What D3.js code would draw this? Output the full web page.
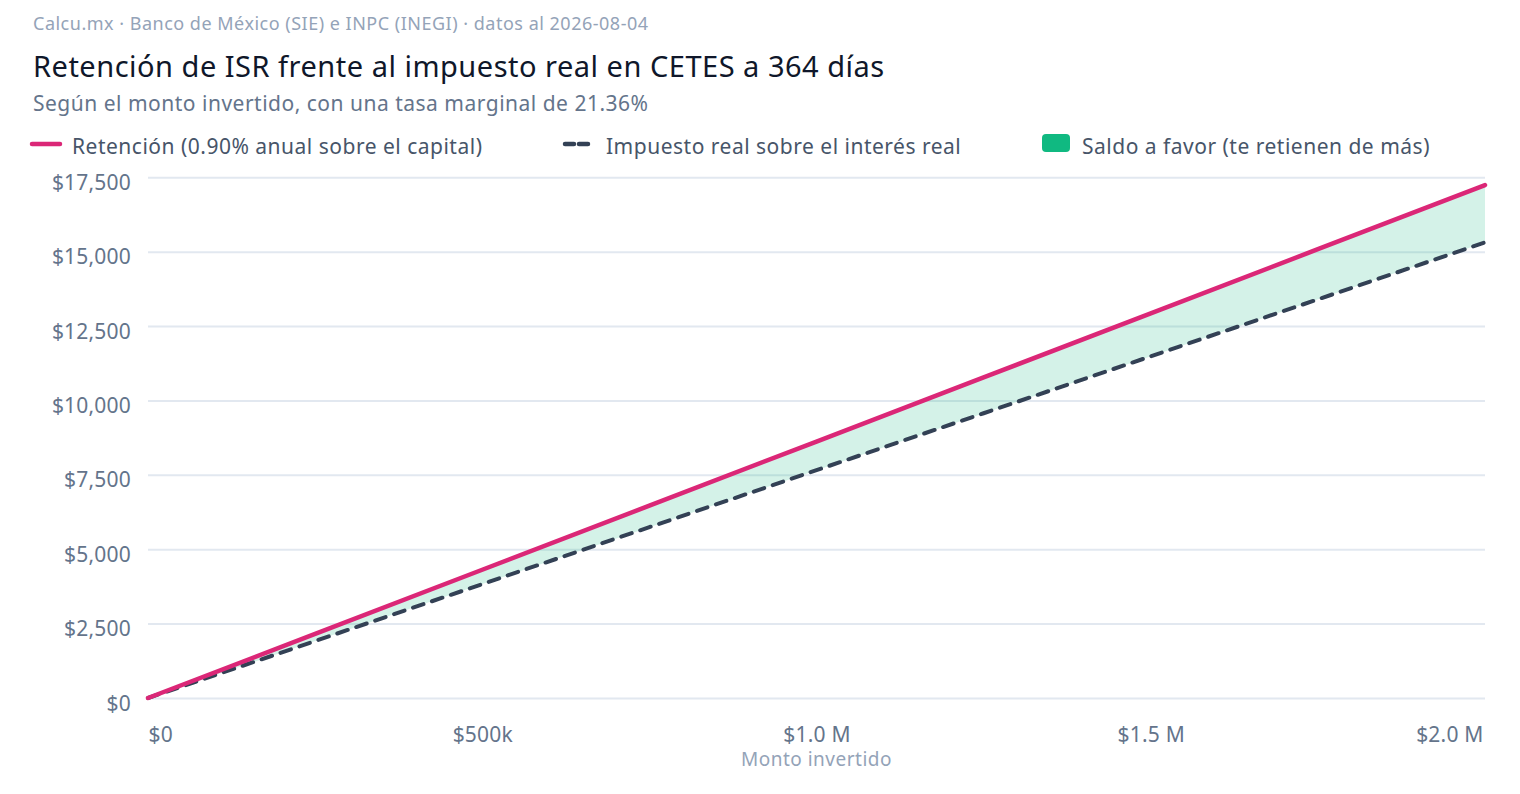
<!DOCTYPE html>
<html>
<head>
<meta charset="utf-8">
<script src="https://cdn.jsdelivr.net/npm/d3@7"></script>
<style>
  html, body { margin: 0; padding: 0; background: #ffffff; }
  svg { display: block; font-family: "Noto Sans", sans-serif; }
  text { letter-spacing: 0.5px; }
</style>
</head>
<body>
<svg id="chart" width="1520" height="794"></svg>
<script>
// ---- data ----
const montos = [0, 250000, 500000, 750000, 1000000, 1250000, 1500000, 1750000, 2000000];
const retencion = [0, 2155, 4310, 6464, 8619, 10774, 12929, 15083, 17238];
const impuestoReal = [0, 1914, 3828, 5742, 7656, 9570, 11484, 13398, 15312];
const xTicks = [0, 500000, 1000000, 1500000, 2000000];
const xTickLabels = ["$0", "$500k", "$1.0 M", "$1.5 M", "$2.0 M"];
const yTicks = [0, 2500, 5000, 7500, 10000, 12500, 15000, 17500];
const legendLabels = ["Retención (0.90% anual sobre el capital)", "Impuesto real sobre el interés real", "Saldo a favor (te retienen de más)"];

const rows = montos.map((m, i) => ({ m, r: retencion[i], t: impuestoReal[i] }));

const svg = d3.select("#chart");
const margin = { left: 148, right: 35, top: 177.3, bottom: 96 };
const W = 1520, H = 794;

const x = d3.scaleLinear().domain([0, 2000000]).range([margin.left, W - margin.right]);
const y = d3.scaleLinear().domain([0, 17500]).range([H - margin.bottom, margin.top]);

// header texts
svg.append("text").attr("x", 33).attr("y", 30).attr("font-size", 18).attr("fill", "#94a3b8")
  .text("Calcu.mx · Banco de México (SIE) e INPC (INEGI) · datos al 2026-08-04");
svg.append("text").attr("x", 33).attr("y", 77).attr("font-size", 29).attr("fill", "#0f172a")
  .text("Retención de ISR frente al impuesto real en CETES a 364 días");
svg.append("text").attr("x", 33).attr("y", 111).attr("font-size", 21).attr("fill", "#64748b")
  .text("Según el monto invertido, con una tasa marginal de 21.36%");

// legend
const lg = svg.append("g");
lg.append("line").attr("x1", 32).attr("x2", 60).attr("y1", 144).attr("y2", 144)
  .attr("stroke", "#db2777").attr("stroke-width", 4.5).attr("stroke-linecap", "round");
lg.append("text").attr("x", 72).attr("y", 153.5).attr("font-size", 21).attr("fill", "#475569").text(legendLabels[0]);
lg.append("line").attr("x1", 565).attr("x2", 588).attr("y1", 144).attr("y2", 144)
  .attr("stroke", "#334155").attr("stroke-width", 4.5).attr("stroke-linecap", "round")
  .attr("stroke-dasharray", "9,5");
lg.append("text").attr("x", 606).attr("y", 153.5).attr("font-size", 21).attr("fill", "#475569").text(legendLabels[1]);
lg.append("rect").attr("x", 1042).attr("y", 134).attr("width", 28).attr("height", 18).attr("rx", 4)
  .attr("fill", "#10b981");
lg.append("text").attr("x", 1082).attr("y", 153.5).attr("font-size", 21).attr("fill", "#475569").text(legendLabels[2]);

// grid + y axis
const yAxis = d3.axisLeft(y).tickValues(yTicks).tickSize(0).tickPadding(0)
  .tickFormat(d => "$" + d3.format(",")(d));
const gy = svg.append("g").attr("transform", `translate(${margin.left},0)`).call(yAxis);
gy.select(".domain").remove();
gy.selectAll("text").attr("x", -17).attr("dy", 12).attr("font-size", 21)
  .attr("font-family", "Noto Sans, sans-serif").attr("fill", "#64748b").style("letter-spacing", "0.2px");

const grid = d3.axisLeft(y).tickValues(yTicks).tickSize(-(W - margin.right - margin.left)).tickFormat("");
const gg = svg.append("g").attr("transform", `translate(${margin.left},0)`).call(grid);
gg.select(".domain").remove();
gg.selectAll("line").attr("stroke", "#e2e8f0").attr("stroke-width", 2);

// x axis
const xAxis = d3.axisBottom(x).tickValues(xTicks).tickSize(0).tickPadding(0)
  .tickFormat((d, i) => xTickLabels[i]);
const gx = svg.append("g").attr("transform", `translate(0,${H - margin.bottom})`).call(xAxis);
gx.select(".domain").remove();
gx.selectAll("text").attr("y", 44).attr("dy", 0).attr("font-size", 21)
  .attr("font-family", "Noto Sans, sans-serif").attr("fill", "#64748b").style("letter-spacing", "0.2px")
  .attr("dx", (d, i) => i === xTicks.length - 1 ? -2 : 0)
  .attr("text-anchor", (d, i) => i === 0 ? "start" : (i === xTicks.length - 1 ? "end" : "middle"));

svg.append("text").attr("x", (x.range()[0] + x.range()[1]) / 2).attr("y", 766)
  .attr("text-anchor", "middle").attr("font-size", 19).attr("fill", "#94a3b8").text("Monto invertido");

// area between
const area = d3.area().x(d => x(d.m)).y0(d => y(d.t)).y1(d => y(d.r));
svg.append("path").datum(rows).attr("d", area).attr("fill", "#10b981").attr("fill-opacity", 0.18);

// lines
const lineT = d3.line().x(d => x(d.m)).y(d => y(d.t));
svg.append("path").datum(rows).attr("d", lineT).attr("fill", "none")
  .attr("stroke", "#334155").attr("stroke-width", 4).attr("stroke-linecap", "round")
  .attr("stroke-dasharray", "11,9");
const lineR = d3.line().x(d => x(d.m)).y(d => y(d.r));
svg.append("path").datum(rows).attr("d", lineR).attr("fill", "none")
  .attr("stroke", "#db2777").attr("stroke-width", 4.5).attr("stroke-linecap", "round");
</script>
</body>
</html>
